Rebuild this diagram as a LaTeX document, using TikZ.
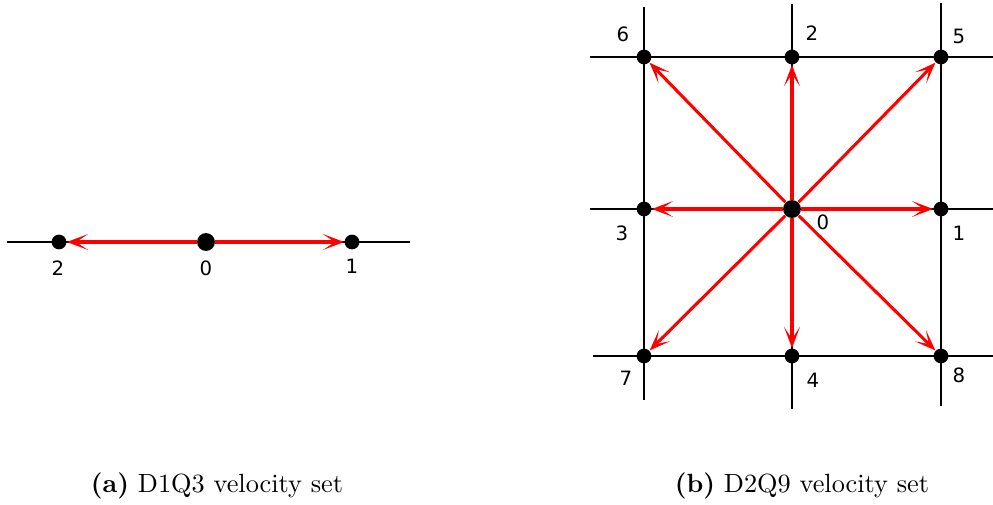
\documentclass[tikz,border=0pt]{standalone}
\usepackage{fontspec}
\newfontfamily\lblfont{DejaVu Sans}
\usetikzlibrary{arrows.meta,positioning}
\tikzset{
  latln/.style={line width=0.95pt, black},
  velarr/.style={-{Stealth[length=8pt,width=6pt,inset=4.5pt]}, line width=1.15pt, red},
  latpt/.style={circle, fill=black, inner sep=0pt, minimum size=5.6pt},
  restpt/.style={circle, fill=black, inner sep=0pt, minimum size=6.8pt},
  numlbl/.style={font=\lblfont\fontsize{7.5}{9}\selectfont, inner sep=0pt},
  capt/.style={font=\normalsize, inner sep=0pt},
}
\begin{document}
\begin{tikzpicture}[x=0.38pt, y=-0.38pt]
    \useasboundingbox (0,0) rectangle (993,504);
    % (a) D1Q3: one lattice line
    \draw[latln] (7,242) -- (410,242);
    \node[restpt] (a0) at (206,242) {};
    \node[latpt] (a1) at (352,242) {};
    \node[latpt] (a2) at (59,242) {};
    \draw[velarr] (a0) -- (a1);
    \draw[velarr] (a0) -- (a2);
    \node[numlbl] (la0) at (206,268) {0};
    \node[numlbl] (la1) at (352,266) {1};
    \node[numlbl] (la2) at (58,268) {2};
    % (b) D2Q9: lattice lines
    \draw[latln] (644,7) -- (644,400);
    \draw[latln] (792,4) -- (792,409);
    \draw[latln] (941,3) -- (941,406);
    \draw[latln] (590,57) -- (993,57);
    \draw[latln] (590,209) -- (993,209);
    \draw[latln] (593,356) -- (993,356);
    % lattice points
    \node[restpt] (b0) at (792,209) {};
    \node[latpt] (b1) at (941,209) {};
    \node[latpt] (b2) at (792,57) {};
    \node[latpt] (b3) at (644,209) {};
    \node[latpt] (b4) at (792,356) {};
    \node[latpt] (b5) at (941,57) {};
    \node[latpt] (b6) at (644,57) {};
    \node[latpt] (b7) at (644,356) {};
    \node[latpt] (b8) at (941,356) {};
    % velocities
    \draw[velarr] (b0) -- (b1);
    \draw[velarr] (b0) -- (b2);
    \draw[velarr] (b0) -- (b3);
    \draw[velarr] (b0) -- (b4);
    \draw[velarr] (b0) -- (b5);
    \draw[velarr] (b0) -- (b6);
    \draw[velarr] (b0) -- (b7);
    \draw[velarr] (b0) -- (b8);
    % numbers
    \node[numlbl] (lb0) at (823,222) {0};
    \node[numlbl] (lb1) at (959,233) {1};
    \node[numlbl] (lb2) at (812,33) {2};
    \node[numlbl] (lb3) at (622,233) {3};
    \node[numlbl] (lb4) at (813,380) {4};
    \node[numlbl] (lb5) at (959,36) {5};
    \node[numlbl] (lb6) at (623,34) {6};
    \node[numlbl] (lb7) at (626,378) {7};
    \node[numlbl] (lb8) at (959,375) {8};
    % captions
    \node[capt] (capa) at (217,486) {\textbf{(a)} D1Q3 velocity set};
    \node[capt] (capb) at (802,486) {\textbf{(b)} D2Q9 velocity set};
\end{tikzpicture}
\end{document}
